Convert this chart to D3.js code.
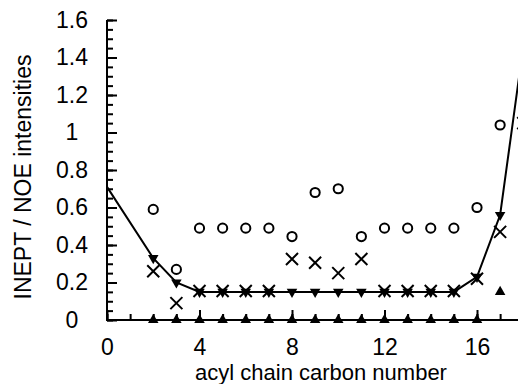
<!DOCTYPE html>
<html>
<head>
<meta charset="utf-8">
<script src="https://cdnjs.cloudflare.com/ajax/libs/d3/7.8.5/d3.min.js"></script>
<style>
body { margin: 0; background: #fff; }
svg text { font-family: "Liberation Sans", Arial, sans-serif; fill: #000; }
.tick line { stroke: #000; stroke-width: 2; }
</style>
</head>
<body>
<svg width="518" height="384"></svg>
<script>
// open circles
var circleC = [2, 3, 4, 5, 6, 7, 8, 9, 10, 11, 12, 13, 14, 15, 16, 17];
var circleV = [0.59, 0.27, 0.49, 0.49, 0.49, 0.49, 0.445, 0.68, 0.70, 0.445, 0.49, 0.49, 0.49, 0.49, 0.60, 1.04];
// crosses
var crossC = [2, 3, 4, 5, 6, 7, 8, 9, 10, 11, 12, 13, 14, 15, 16, 17, 18];
var crossV = [0.26, 0.09, 0.155, 0.155, 0.155, 0.155, 0.325, 0.305, 0.25, 0.325, 0.155, 0.155, 0.155, 0.155, 0.22, 0.47, 1.05];
// filled down triangles, joined by a line
var downC = [0, 2, 3, 4, 5, 6, 7, 8, 9, 10, 11, 12, 13, 14, 15, 16, 17, 18];
var downV = [0.71, 0.33, 0.20, 0.15, 0.15, 0.15, 0.15, 0.15, 0.15, 0.15, 0.15, 0.15, 0.15, 0.15, 0.15, 0.23, 0.56, 1.46];
// filled up triangles
var upC = [2, 3, 4, 5, 6, 7, 8, 9, 10, 11, 12, 13, 14, 15, 16, 17];
var upV = [0, 0, 0, 0, 0, 0, 0, 0, 0, 0, 0, 0, 0, 0, 0, 0.15];

var xMajor = [0, 4, 8, 12, 16];
var xMinor = d3.range(0, 18);
var yMajor = [0, 0.2, 0.4, 0.6, 0.8, 1, 1.2, 1.4, 1.6];
var yMinor = d3.range(0, 33).map(function (i) { return i * 0.05; });

var svg = d3.select("svg");
var x = d3.scaleLinear().domain([0, 16]).range([107, 477]);
var y = d3.scaleLinear().domain([0, 1.6]).range([320, 20]);

// axes lines
svg.append("line").attr("x1", x(0)).attr("x2", x(18.5))
  .attr("y1", y(0)).attr("y2", y(0)).attr("stroke", "#000").attr("stroke-width", 2);
svg.append("line").attr("x1", x(0)).attr("x2", x(0))
  .attr("y1", y(0) + 1).attr("y2", y(1.6)).attr("stroke", "#000").attr("stroke-width", 2);

// x ticks (inward)
svg.append("g").attr("transform", "translate(0," + y(0) + ")")
  .call(d3.axisBottom(x).tickValues(xMinor).tickSize(-6).tickFormat(""))
  .call(function (g) { g.select(".domain").remove(); });
svg.append("g").attr("transform", "translate(0," + y(0) + ")")
  .call(d3.axisBottom(x).tickValues(xMajor).tickSize(-10).tickPadding(19).tickFormat(d3.format("d")))
  .call(function (g) {
    g.select(".domain").remove();
    g.selectAll("text").attr("font-size", 23).attr("font-family", null);
  });

// y ticks (inward)
svg.append("g").attr("transform", "translate(" + x(0) + ",0)")
  .call(d3.axisLeft(y).tickValues(yMinor).tickSize(-6).tickFormat(""))
  .call(function (g) { g.select(".domain").remove(); });
svg.append("g").attr("transform", "translate(" + x(0) + ",0)")
  .call(d3.axisLeft(y).tickValues(yMajor).tickSize(-10).tickFormat(function (d) { return String(+d.toFixed(1)); }))
  .call(function (g) {
    g.select(".domain").remove();
    g.selectAll("text").attr("font-size", 23).attr("font-family", null)
      .attr("text-anchor", "middle").attr("x", -35);
  });

// axis titles
svg.append("text").attr("x", 321).attr("y", 380).attr("text-anchor", "middle")
  .attr("font-size", 22).text("acyl chain carbon number");
svg.append("text").attr("transform", "translate(31,177) rotate(-90)").attr("text-anchor", "middle")
  .attr("font-size", 23).text("INEPT / NOE intensities");

// line through down triangles
var downData = downC.map(function (c, i) { return [c, downV[i]]; });
svg.append("path").datum(downData)
  .attr("d", d3.line().x(function (d) { return x(d[0]); }).y(function (d) { return y(d[1]); }))
  .attr("fill", "none").attr("stroke", "#000").attr("stroke-width", 2);

// circles
svg.selectAll(".circ").data(circleC).enter().append("circle")
  .attr("class", "circ")
  .attr("cx", function (c) { return x(c); })
  .attr("cy", function (c, i) { return y(circleV[i]); })
  .attr("r", 4.6).attr("fill", "none").attr("stroke", "#000").attr("stroke-width", 2);

// up triangles
var tri = d3.symbol().type(d3.symbolTriangle).size(48);
svg.selectAll(".up").data(upC).enter().append("path")
  .attr("class", "up").attr("d", tri)
  .attr("transform", function (c, i) { return "translate(" + x(c) + "," + y(upV[i]) + ")"; })
  .attr("fill", "#000");

// down triangles
svg.selectAll(".down").data(downData.filter(function (d) { return d[0] > 0; })).enter().append("path")
  .attr("class", "down").attr("d", tri)
  .attr("transform", function (d) { return "translate(" + x(d[0]) + "," + y(d[1]) + ") rotate(180)"; })
  .attr("fill", "#000");

// crosses
var cross = d3.symbol().type(d3.symbolX).size(96);
svg.selectAll(".cross").data(crossC).enter().append("path")
  .attr("class", "cross").attr("d", cross)
  .attr("transform", function (c, i) { return "translate(" + x(c) + "," + y(crossV[i]) + ")"; })
  .attr("fill", "none").attr("stroke", "#000").attr("stroke-width", 2);
</script>
</body>
</html>
